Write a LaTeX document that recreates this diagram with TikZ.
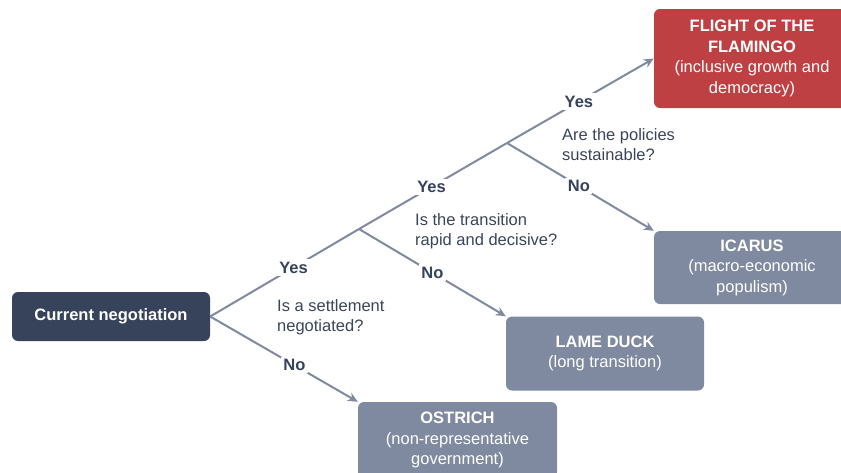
\documentclass[tikz,border=0pt]{standalone}
\usepackage{fontspec}
\setmainfont{Liberation Sans}
\usepackage{tikz}
\usetikzlibrary{arrows.meta}

\definecolor{navy}{HTML}{36435A}
\definecolor{slate}{HTML}{7F899F}
\definecolor{flamered}{HTML}{BE4042}
\definecolor{asktext}{HTML}{3A4558}

\begin{document}
\begin{tikzpicture}[x=1pt,y=-1pt,
    box/.style={rounded corners=6pt,inner sep=0pt,align=center,text=white,
                font=\fontsize{16.5}{20.5}\selectfont},
    link/.style={draw=slate,line width=2pt},
    tip/.style={-{Stealth[length=10pt,width=9pt]}},
    answer/.style={fill=white,inner sep=2.5pt,text=navy,
                   font=\fontsize{16.5}{20}\selectfont\bfseries},
    ask/.style={anchor=west,align=left,inner sep=0pt,text=asktext,
                font=\fontsize{16.5}{20}\selectfont}]
\clip (0,0) rectangle (841,472);
\useasboundingbox (0,0) rectangle (841,472);

\begin{scope}[every node/.style={box}]
    \node[fill=navy,minimum width=198pt,minimum height=49pt] (current) at (111,316.5) {\bfseries Current negotiation};
    \node[fill=slate,minimum width=199pt,minimum height=76pt] (ostrich) at (457.5,440) {\textbf{OSTRICH}\\(non-representative\\government)};
    \node[fill=slate,minimum width=198pt,minimum height=74pt] (lameduck) at (605,353.5) {\textbf{LAME DUCK}\\(long transition)};
    \node[fill=slate,minimum width=196pt,minimum height=73pt] (icarus) at (752,267.5) {\textbf{ICARUS}\\(macro-economic\\populism)};
    \node[fill=flamered,minimum width=196pt,minimum height=99pt] (flamingo) at (752,58.5) {\textbf{FLIGHT OF THE}\\\textbf{FLAMINGO}\\(inclusive growth and\\democracy)};
\end{scope}

\coordinate (split2) at (359,229);
\coordinate (split3) at (507,143);

\node[ask] (ask1) at (277,317) {Is a settlement\\negotiated?};
\node[ask] (ask2) at (415,231.5) {Is the transition\\rapid and decisive?};
\node[ask] (ask3) at (562,144.5) {Are the policies\\sustainable?};

\begin{scope}[every node/.style={answer}]
    \draw[link] (current.east) -- node[pos=.56] {Yes} (split2);
    \draw[link,tip] (current.east) -- node[pos=.57] {No} (ostrich.north west);

    \draw[link] (split2) -- node[pos=.49] {Yes} (split3);
    \draw[link,tip] (split2) -- node[pos=.5] {No} (lameduck.north west);

    \draw[link,tip] (split3) -- node[pos=.49] {Yes} (flamingo.west);
    \draw[link,tip] (split3) -- node[pos=.49] {No} (icarus.north west);
\end{scope}

\end{tikzpicture}
\end{document}
